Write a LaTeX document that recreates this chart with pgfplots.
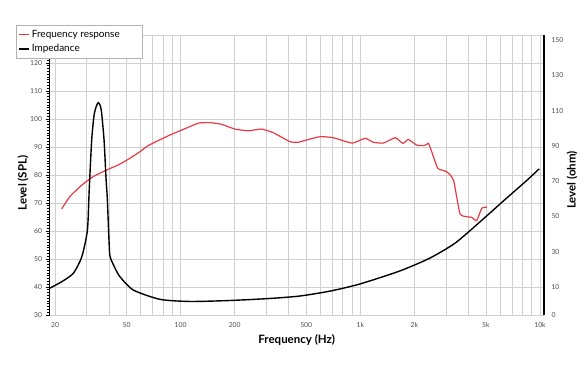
\documentclass[border=0pt]{standalone}
\usepackage{fontspec}
\setmainfont{Lato}
\usepackage{pgfplots}
\pgfplotsset{compat=1.18}
\definecolor{frcol}{RGB}{232,58,66}
\definecolor{gridc}{RGB}{208,208,208}
\pgfplotstableread{
f db
21.8 67.9
24.2 72.3
28.2 76.4
32.6 79.4
38.8 81.8
45.0 83.6
52.3 86.0
59.3 88.3
66.0 90.5
76.8 92.6
87.4 94.3
103.7 96.3
125.4 98.5
145.8 98.7
169 98.1
200.8 96.4
238 95.8
282 96.4
328 95.1
406 91.9
452 91.7
502 92.5
598 93.7
709 93.3
900 91.4
1064 93.1
1182 91.7
1342 91.4
1566 93.3
1726 91.3
1850 92.7
2060 90.7
2270 90.5
2390 91.3
2480 88.9
2700 82.4
3020 81.2
3300 78.2
3580 66.3
3900 65.1
4160 64.9
4440 63.7
4740 68.1
5060 68.5
}\frdata
\pgfplotstableread{
f ohm
18.64 9.26
21.8 13.0
25.3 17.8
28.2 27.2
30.3 42.3
31.0 65.0
32.0 93.3
33.0 107.5
34.0 112.6
34.8 114.5
35.6 113.2
36.3 109.2
37.5 93.3
38.5 70.7
39.1 60.0
40.0 35.0
40.5 27.2
43.1 20.8
46.0 15.8
54.5 8.3
76.8 3.0
112.8 1.8
188 2.35
314 3.5
462 4.9
680 7.7
994 11.7
1660 19.1
2440 26.4
3372 34.9
4620 46.8
6340 59.3
8480 70.6
9900 77.0
}\impdata
\begin{document}
\begin{tikzpicture}[x=1pt,y=1pt]
\useasboundingbox (-49.5,-57) rectangle (538.5,315);
\begin{axis}[
  at={(0,0)}, anchor=south west,
  scale only axis, width=494.5pt, height=280pt,
  xmode=log, xmin=18.64, xmax=10526,
  ymin=30, ymax=130,
  separate axis lines,
  axis x line*=bottom, axis y line*=left,
  x axis line style={gridc, line width=0.8pt, -},
  y axis line style={black, line width=1.6pt, -},
  xtick={20,50,100,200,500,1000,2000,5000,10000},
  xticklabels={20,50,100,200,500,1k,2k,5k,10k},
  minor xtick={30,40,60,70,80,90,300,400,600,700,800,900,3000,4000,6000,7000,8000,9000},
  ytick={30,40,...,130},
  yticklabels={30,40,50,60,70,80,90,100,110,120,},
  minor y tick num=9,
  xmajorgrids=true, xminorgrids=true, ymajorgrids=true,
  major grid style={gridc, line width=0.8pt},
  minor grid style={gridc, line width=0.8pt},
  tick align=outside,
  x tick style={draw=none},
  y tick style={black, line width=0.7pt},
  major tick length=4pt, minor tick length=3pt,
  ticklabel style={font=\fontsize{6.8}{7}\selectfont, color=black!70},
  /pgf/number format/assume math mode=true,
  xlabel={Frequency (Hz)}, ylabel={Level (SPL)},
  label style={font=\bfseries\fontsize{11.5}{13}\selectfont},
  xlabel style={at={(axis description cs:0.5,-0.089)}, anchor=center},
  ylabel style={at={(axis description cs:-0.0536,0.471)}, anchor=center},
]
\addplot[frcol, line width=1.2pt, smooth, tension=0.3] table[x=f, y=db] {\frdata};
\end{axis}
\begin{axis}[
  at={(0,0)}, anchor=south west,
  scale only axis, width=494.5pt, height=280pt,
  xmode=log, xmin=18.64, xmax=10526,
  ymin=-5.87, ymax=152.86,
  axis x line=none, axis y line*=right,
  y axis line style={black, line width=1.6pt, -},
  ytick={-5.87,10,30,50,70,90,110,130,150},
  yticklabels={0,10,30,50,70,90,110,130,150},
  major tick length=0pt,
  yticklabel style={font=\fontsize{6.8}{7}\selectfont, color=black!70, xshift=4pt},
  /pgf/number format/assume math mode=true,
  ylabel={Level (ohm)},
  label style={font=\bfseries\fontsize{11.5}{13}\selectfont},
  ylabel style={at={(axis description cs:1.0566,0.482)}, anchor=center, rotate=0},
  legend style={at={(axis description cs:-0.0677,1.0357)}, anchor=north west,
    draw=gray!60, fill=white, font=\fontsize{10}{11}\selectfont,
    inner xsep=2pt, inner ysep=3pt, row sep=1.5pt},
  legend cell align=left,
  legend image code/.code={\draw[#1, line width=1.6pt] (0pt,0pt) -- (10pt,0pt);},
]
\addlegendimage{frcol}
\addlegendentry{\makebox[106pt][l]{Frequency response}}
\addlegendimage{black}
\addlegendentry{Impedance}
\addplot[black, line width=1.4pt, smooth, tension=0.4] table[x=f, y=ohm] {\impdata};
\end{axis}
\end{tikzpicture}
\end{document}
